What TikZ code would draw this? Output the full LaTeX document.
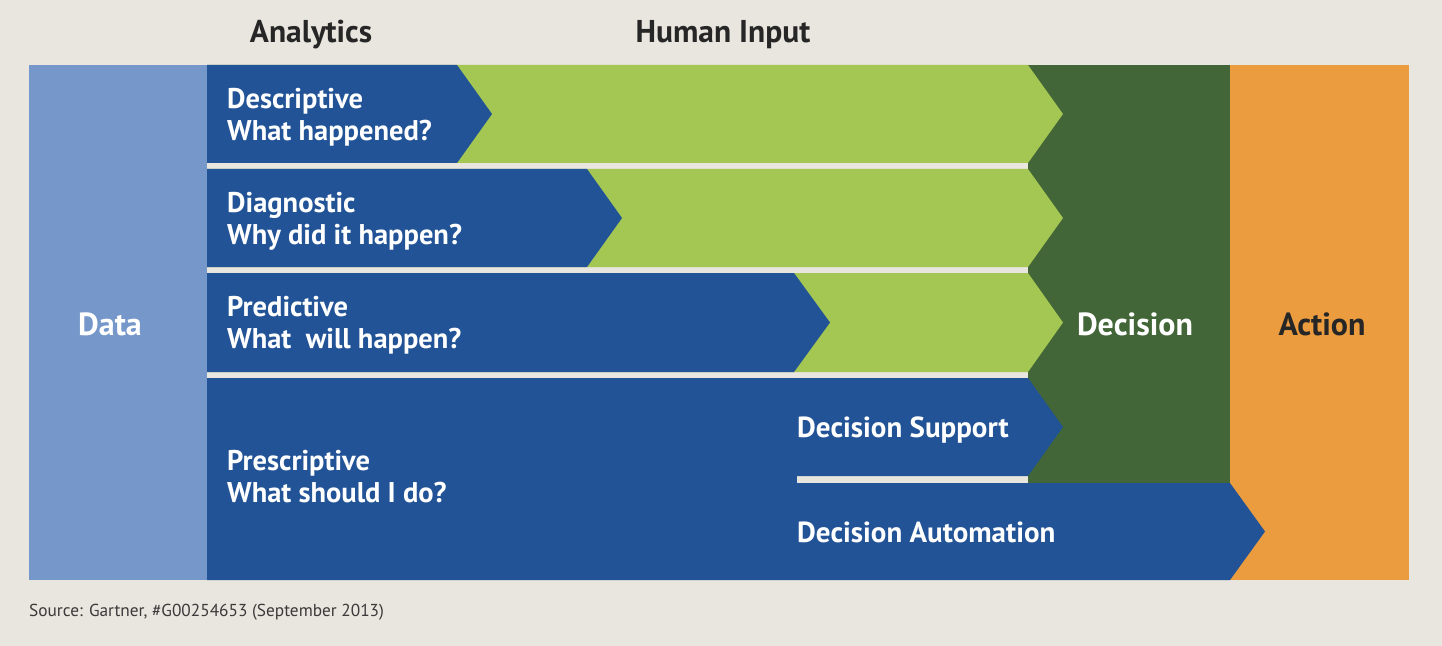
\documentclass[tikz,border=0pt]{standalone}
\usepackage{fontspec}
\setmainfont{PT Sans}
\definecolor{bgc}{HTML}{E9E5DF}
\definecolor{datac}{HTML}{7597C9}
\definecolor{bluec}{HTML}{215396}
\definecolor{lgreenc}{HTML}{A4C653}
\definecolor{dgreenc}{HTML}{426637}
\definecolor{orangec}{HTML}{EB9C3F}
\definecolor{srcc}{HTML}{3A3A3A}
\begin{document}
\begin{tikzpicture}[x=1bp,y=-1bp,
  rowlbl/.style={text=white, font=\bfseries\fontsize{28.5bp}{32.5bp}\selectfont, align=left, anchor=north west, inner sep=0pt},
  sublbl/.style={text=white, font=\bfseries\fontsize{29bp}{32bp}\selectfont, anchor=base west, inner sep=0pt},
  header/.style={text=black!85, font=\bfseries\fontsize{31.5bp}{34bp}\selectfont, anchor=base, inner sep=0pt},
  collbl/.style={font=\bfseries\fontsize{32bp}{34bp}\selectfont, anchor=base, inner sep=0pt},
  srclbl/.style={text=srcc, font=\fontsize{17.3bp}{19bp}\selectfont, anchor=base west, inner sep=0pt}]
\useasboundingbox (0,0) rectangle (1442,646);
\fill[bgc] (0,0) rectangle (1442,646);
% columns
\fill[datac] (29,65) rectangle (207,580);
\fill[orangec] (1230,65) rectangle (1409,580);
\fill[dgreenc] (1028,65) rectangle (1230,483);
% human input (green) arrows
\fill[lgreenc] (207,65) -- (1028,65) -- (1063,114) -- (1028,163) -- (207,163) -- cycle;
\fill[lgreenc] (207,169) -- (1028,169) -- (1063,218) -- (1028,267) -- (207,267) -- cycle;
\fill[lgreenc] (207,273) -- (1028,273) -- (1063,322.5) -- (1028,372) -- (207,372) -- cycle;
% analytics (blue) arrows
\fill[bluec] (207,65) -- (457,65) -- (492,114) -- (457,163) -- (207,163) -- cycle;
\fill[bluec] (207,169) -- (587,169) -- (622,218) -- (587,267) -- (207,267) -- cycle;
\fill[bluec] (207,273) -- (794,273) -- (830,322.5) -- (794,372) -- (207,372) -- cycle;
% prescriptive
\fill[bluec] (207,378) -- (1028,378) -- (1063,427) -- (1028,476) -- (207,476) -- cycle;
\fill[bluec] (207,475) rectangle (797,484);
\fill[bluec] (207,483) -- (1230,483) -- (1265,531.5) -- (1230,580) -- (207,580) -- cycle;
% texts
\node[header] (analytics) at (311,43) {Analytics};
\node[header] (human) at (723,43) {Human Input};
\node[collbl, text=white] (data) at (110,335) {Data};
\node[collbl, text=white] (decision) at (1135,335) {Decision};
\node[collbl, text=black!85] (action) at (1322,335) {Action};
\node[rowlbl] (desc) at (227,88) {Descriptive\\What happened?};
\node[rowlbl] (diag) at (227,192) {Diagnostic\\Why did it happen?};
\node[rowlbl] (pred) at (227,296) {Predictive\\What\ \ will happen?};
\node[rowlbl] (presc) at (227,450) {Prescriptive\\What should I do?};
\node[sublbl] (support) at (797,437) {Decision Support};
\node[sublbl] (automation) at (797,542) {Decision Automation};
\node[srclbl] (source) at (29,616) {Source: Gartner, \#G00254653 (September 2013)};
\end{tikzpicture}
\end{document}
